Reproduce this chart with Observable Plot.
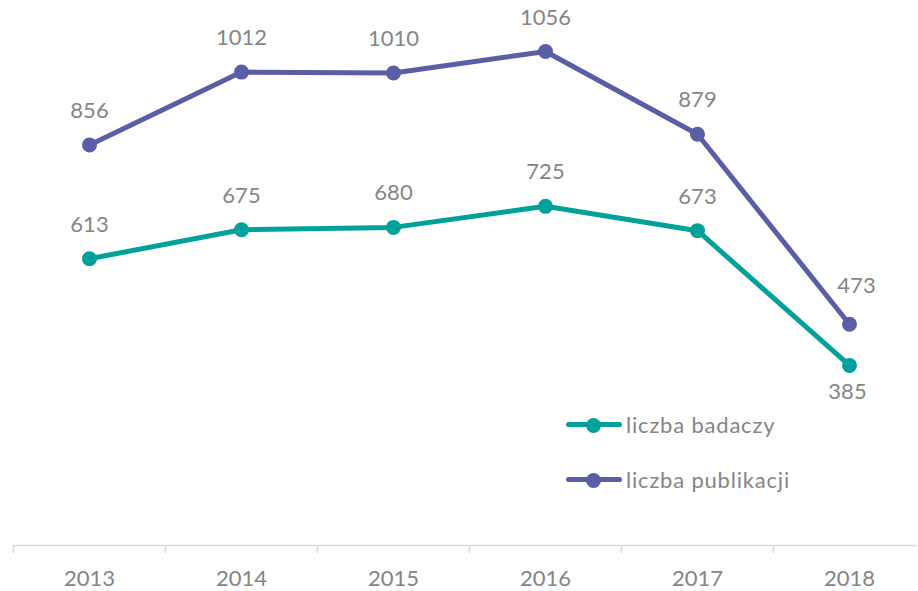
<!DOCTYPE html>
<html>
<head>
<meta charset="utf-8">
<script src="https://cdn.jsdelivr.net/npm/d3@7"></script>
<script src="https://cdn.jsdelivr.net/npm/@observablehq/plot@0.6"></script>
<style>
  html, body { margin: 0; padding: 0; background: #fff; }
  #wrap { position: relative; width: 918px; height: 591px; font-family: Lato, "Open Sans", sans-serif; }
  #legend { position: absolute; left: 566px; top: 408px; color: #858585; font-size: 22px; letter-spacing: 0.8px; }
  .row { display: flex; align-items: center; height: 33px; margin-bottom: 22px; }
  .sw { position: relative; width: 56px; height: 14px; margin-right: 4px; }
  .sw .ln { position: absolute; left: 0; right: 0; top: 4.5px; height: 5px; border-radius: 2.5px; }
  .sw .dt { position: absolute; left: 20px; top: 0; width: 15px; height: 15px; border-radius: 50%; }
</style>
</head>
<body>
<div id="wrap"><div id="chart"></div><div id="legend"></div></div>
<script>
const years = ["2013", "2014", "2015", "2016", "2017", "2018"];
const badacze = [613, 675, 680, 725, 673, 385];
const publikacje = [856, 1012, 1010, 1056, 879, 473];
const seriesNames = ["liczba badaczy", "liczba publikacji"];
const seriesColors = ["#00a19a", "#5a5ea6"];

const data = [];
years.forEach((y, i) => {
  data.push({year: y, value: badacze[i], series: seriesNames[0]});
  data.push({year: y, value: publikacje[i], series: seriesNames[1]});
});

const xRange = [12, 925];
const step = (xRange[1] - xRange[0]) / years.length;
const gray = "#858585";
const last = years[years.length - 1];

const chart = Plot.plot({
  width: 918,
  height: 591,
  marginTop: 0,
  marginBottom: 46,
  marginLeft: 12,
  marginRight: 1,
  style: {fontFamily: "Lato, 'Open Sans', sans-serif", background: "transparent"},
  x: {type: "band", domain: years, range: xRange, padding: 0, axis: null, label: null},
  y: {domain: [0, 1165], axis: null},
  color: {domain: seriesNames, range: seriesColors},
  marks: [
    Plot.ruleY([0], {stroke: "#d9d9d9", strokeWidth: 1.5}),
    Plot.ruleX(years, {x: d => d, y1: 0, y2: -17, dx: -step / 2, stroke: "#d9d9d9", strokeWidth: 1.5}),
    Plot.axisX({domain: years, tickSize: 0, tickPadding: 25, fontSize: 22, fill: gray, color: gray, label: null}),
    Plot.line(data, {x: "year", y: "value", z: "series", stroke: "series", strokeWidth: 5, strokeLinejoin: "round", strokeLinecap: "round"}),
    Plot.dot(data, {x: "year", y: "value", fill: "series", r: 7.5}),
    Plot.text(data.filter(d => d.year !== last), {x: "year", y: "value", text: d => String(d.value), dy: -34, lineAnchor: "middle", fontSize: 22, fill: gray}),
    Plot.text(data.filter(d => d.year === last && d.series === seriesNames[1]), {x: "year", y: "value", text: d => String(d.value), dy: -38, dx: 7, lineAnchor: "middle", fontSize: 22, fill: gray}),
    Plot.text(data.filter(d => d.year === last && d.series === seriesNames[0]), {x: "year", y: "value", text: d => String(d.value), dy: 27, dx: -2, lineAnchor: "middle", fontSize: 22, fill: gray})
  ]
});
document.getElementById("chart").appendChild(chart);

const legend = document.getElementById("legend");
seriesNames.forEach((name, i) => {
  const row = document.createElement("div");
  row.className = "row";
  row.innerHTML = `<div class="sw"><div class="ln" style="background:${seriesColors[i]}"></div><div class="dt" style="background:${seriesColors[i]}"></div></div><span>${name}</span>`;
  legend.appendChild(row);
});
</script>
</body>
</html>
